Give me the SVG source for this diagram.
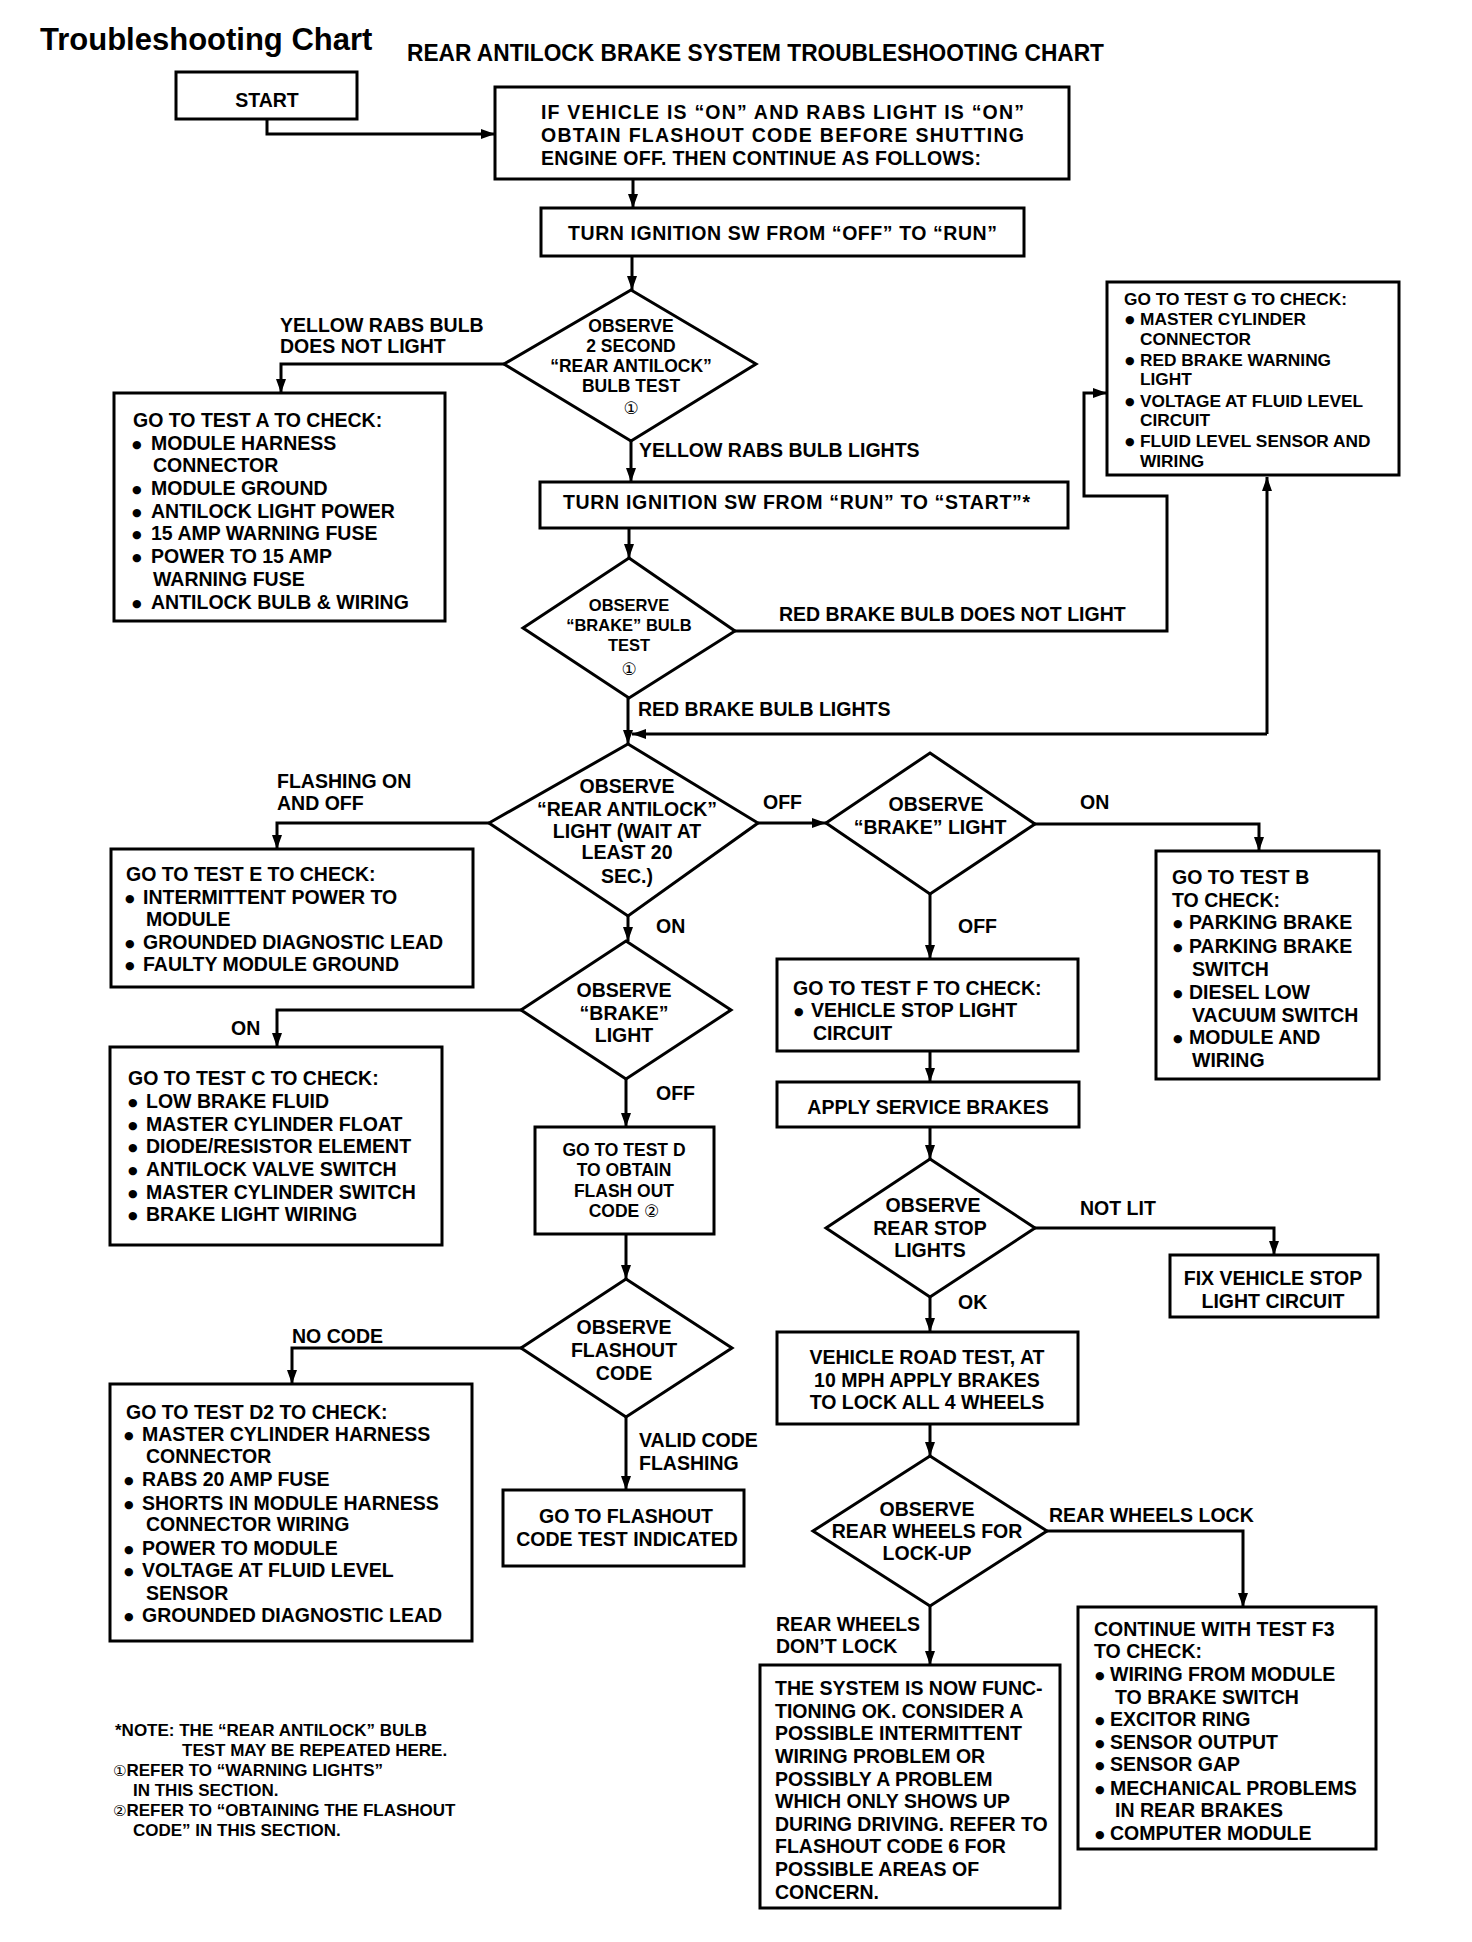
<svg xmlns="http://www.w3.org/2000/svg" width="1472" height="1942" viewBox="0 0 1472 1942">
<style>
text{font-family:"Liberation Sans",Arial,"DejaVu Sans",sans-serif;font-weight:bold;font-size:19.5px;fill:#000}
.c{text-anchor:middle}
.s{font-size:17.5px}
.g{font-size:17.3px}
.n{font-size:17px}
.sm{font-size:16.5px}
.bl{font-family:"DejaVu Sans",sans-serif;font-size:11px;font-weight:normal}
.cd{font-family:"DejaVu Sans",sans-serif;font-size:17px;font-weight:normal}
.box{fill:#fff;stroke:#000;stroke-width:3}
.dia{fill:#fff;stroke:#000;stroke-width:3;stroke-linejoin:miter}
.ln{fill:none;stroke:#000;stroke-width:3}
.ar{fill:none;stroke:#000;stroke-width:3;marker-end:url(#ah)}
</style>
<defs>
<marker id="ah" viewBox="0 0 14 10" refX="14" refY="5" markerWidth="14" markerHeight="10" markerUnits="userSpaceOnUse" orient="auto"><path d="M0,0 L14,5 L0,10 z" fill="#000"/></marker>
</defs>
<rect x="0" y="0" width="1472" height="1942" fill="#fff"/>

<text x="40" y="50" style="font-size:31px">Troubleshooting Chart</text>
<text x="407" y="61" style="font-size:23px" textLength="697" lengthAdjust="spacingAndGlyphs">REAR ANTILOCK BRAKE SYSTEM TROUBLESHOOTING CHART</text>

<g id="connectors">
<path class="ar" d="M267,119 V134 H495"/>
<path class="ar" d="M633,179 V208"/>
<path class="ar" d="M632,256 V290"/>
<path class="ar" d="M504,364 H281 V393"/>
<path class="ar" d="M631,441 V482"/>
<path class="ar" d="M629,528 V558"/>
<path class="ar" d="M735,631 H1167 V496 H1084 V393 H1107"/>
<path class="ar" d="M628,698 V744"/>
<path class="ar" d="M1267,734 V477"/>
<path class="ar" d="M1267,734 H632"/>
<path class="ar" d="M489,823 H277 V849"/>
<path class="ar" d="M758,823 H826"/>
<path class="ar" d="M1035,824 H1259 V851"/>
<path class="ar" d="M628,916 V941"/>
<path class="ar" d="M930,894 V959"/>
<path class="ar" d="M521,1010 H277 V1047"/>
<path class="ar" d="M626,1079 V1127"/>
<path class="ar" d="M930,1051 V1082"/>
<path class="ar" d="M930,1127 V1159"/>
<path class="ar" d="M1035,1228 H1274 V1255"/>
<path class="ar" d="M626,1234 V1279"/>
<path class="ar" d="M930,1297 V1332"/>
<path class="ar" d="M521,1348 H292 V1384"/>
<path class="ar" d="M626,1417 V1490"/>
<path class="ar" d="M930,1424 V1456"/>
<path class="ar" d="M1047,1531 H1243 V1607"/>
<path class="ar" d="M930,1606 V1665"/>
</g>

<g id="labels">
<text x="280" y="332">YELLOW RABS BULB</text>
<text x="280" y="353">DOES NOT LIGHT</text>
<text x="639" y="457">YELLOW RABS BULB LIGHTS</text>
<text x="779" y="621">RED BRAKE BULB DOES NOT LIGHT</text>
<text x="638" y="716">RED BRAKE BULB LIGHTS</text>
<text x="277" y="788">FLASHING ON</text>
<text x="277" y="810">AND OFF</text>
<text x="763" y="809">OFF</text>
<text x="1080" y="809">ON</text>
<text x="656" y="933">ON</text>
<text x="958" y="933">OFF</text>
<text x="231" y="1035">ON</text>
<text x="656" y="1100">OFF</text>
<text x="1080" y="1215">NOT LIT</text>
<text x="958" y="1309">OK</text>
<text x="292" y="1343">NO CODE</text>
<text x="639" y="1447">VALID CODE</text>
<text x="639" y="1470">FLASHING</text>
<text x="1049" y="1522">REAR WHEELS LOCK</text>
<text x="776" y="1631">REAR WHEELS</text>
<text x="776" y="1653">DON’T LOCK</text>
</g>

<g id="start">
<rect class="box" x="176" y="72" width="181" height="47"/>
<text class="c" x="267" y="107">START</text>
</g>

<g id="box1">
<rect class="box" x="495" y="87" width="574" height="92"/>
<text x="541" y="119" textLength="483" lengthAdjust="spacing">IF VEHICLE IS “ON” AND RABS LIGHT IS “ON”</text>
<text x="541" y="142" textLength="483" lengthAdjust="spacing">OBTAIN FLASHOUT CODE BEFORE SHUTTING</text>
<text x="541" y="165" textLength="440" lengthAdjust="spacing">ENGINE OFF. THEN CONTINUE AS FOLLOWS:</text>
</g>

<g id="box2">
<rect class="box" x="541" y="208" width="483" height="48"/>
<text x="568" y="240" textLength="429" lengthAdjust="spacing">TURN IGNITION SW FROM “OFF” TO “RUN”</text>
</g>

<g id="dia1">
<polygon class="dia" points="631,290 756,364 631,441 504,364"/>
<text class="c s" x="631" y="332">OBSERVE</text>
<text class="c s" x="631" y="352">2 SECOND</text>
<text class="c s" x="631" y="372">“REAR ANTILOCK”</text>
<text class="c s" x="631" y="392">BULB TEST</text>
<text class="c cd" x="631" y="414">①</text>
</g>

<g id="testA">
<rect class="box" x="114" y="393" width="331" height="228"/>
<text x="133" y="427">GO TO TEST A TO CHECK:</text>
<text x="132" y="448" class="bl">●</text><text x="151" y="450">MODULE HARNESS</text>
<text x="153" y="472">CONNECTOR</text>
<text x="132" y="493" class="bl">●</text><text x="151" y="495">MODULE GROUND</text>
<text x="132" y="516" class="bl">●</text><text x="151" y="518">ANTILOCK LIGHT POWER</text>
<text x="132" y="538" class="bl">●</text><text x="151" y="540">15 AMP WARNING FUSE</text>
<text x="132" y="561" class="bl">●</text><text x="151" y="563">POWER TO 15 AMP</text>
<text x="153" y="586">WARNING FUSE</text>
<text x="132" y="607" class="bl">●</text><text x="151" y="609">ANTILOCK BULB &amp; WIRING</text>
</g>

<g id="testG">
<rect class="box" x="1107" y="282" width="292" height="193"/>
<text class="g" x="1124" y="305">GO TO TEST G TO CHECK:</text>
<text class="bl" x="1125" y="323">●</text><text class="g" x="1140" y="325">MASTER CYLINDER</text>
<text class="g" x="1140" y="345">CONNECTOR</text>
<text class="bl" x="1125" y="364">●</text><text class="g" x="1140" y="366">RED BRAKE WARNING</text>
<text class="g" x="1140" y="385">LIGHT</text>
<text class="bl" x="1125" y="405">●</text><text class="g" x="1140" y="407">VOLTAGE AT FLUID LEVEL</text>
<text class="g" x="1140" y="426">CIRCUIT</text>
<text class="bl" x="1125" y="445">●</text><text class="g" x="1140" y="447">FLUID LEVEL SENSOR AND</text>
<text class="g" x="1140" y="467">WIRING</text>
</g>

<g id="box3">
<rect class="box" x="540" y="482" width="528" height="46"/>
<text x="563" y="509" textLength="467" lengthAdjust="spacing">TURN IGNITION SW FROM “RUN” TO “START”*</text>
</g>

<g id="dia2">
<polygon class="dia" points="629,558 735,631 629,698 523,628"/>
<text class="c sm" x="629" y="611">OBSERVE</text>
<text class="c sm" x="629" y="631">“BRAKE” BULB</text>
<text class="c sm" x="629" y="651">TEST</text>
<text class="c cd" x="629" y="675">①</text>
</g>

<g id="dia3">
<polygon class="dia" points="628,744 758,823 628,916 489,823"/>
<text class="c" x="627" y="793">OBSERVE</text>
<text class="c" x="627" y="816">“REAR ANTILOCK”</text>
<text class="c" x="627" y="838">LIGHT (WAIT AT</text>
<text class="c" x="627" y="859">LEAST 20</text>
<text class="c" x="627" y="883">SEC.)</text>
</g>

<g id="dia4">
<polygon class="dia" points="930,753 1035,824 930,894 826,823"/>
<text class="c" x="936" y="811">OBSERVE</text>
<text class="c" x="930" y="834">“BRAKE” LIGHT</text>
</g>

<g id="testE">
<rect class="box" x="111" y="849" width="362" height="138"/>
<text x="126" y="881">GO TO TEST E TO CHECK:</text>
<text class="bl" x="125" y="902">●</text><text x="143" y="904">INTERMITTENT POWER TO</text>
<text x="146" y="926">MODULE</text>
<text class="bl" x="125" y="947">●</text><text x="143" y="949">GROUNDED DIAGNOSTIC LEAD</text>
<text class="bl" x="125" y="969">●</text><text x="143" y="971">FAULTY MODULE GROUND</text>
</g>

<g id="testB">
<rect class="box" x="1156" y="851" width="223" height="228"/>
<text x="1172" y="884">GO TO TEST B</text>
<text x="1172" y="907">TO CHECK:</text>
<text class="bl" x="1173" y="927">●</text><text x="1189" y="929">PARKING BRAKE</text>
<text class="bl" x="1173" y="951">●</text><text x="1189" y="953">PARKING BRAKE</text>
<text x="1192" y="976">SWITCH</text>
<text class="bl" x="1173" y="997">●</text><text x="1189" y="999">DIESEL LOW</text>
<text x="1192" y="1022">VACUUM SWITCH</text>
<text class="bl" x="1173" y="1042">●</text><text x="1189" y="1044">MODULE AND</text>
<text x="1192" y="1067">WIRING</text>
</g>

<g id="testF">
<rect class="box" x="777" y="959" width="301" height="92"/>
<text x="793" y="995">GO TO TEST F TO CHECK:</text>
<text class="bl" x="794" y="1015">●</text><text x="811" y="1017">VEHICLE STOP LIGHT</text>
<text x="813" y="1040">CIRCUIT</text>
</g>

<g id="dia5">
<polygon class="dia" points="626,941 731,1010 626,1079 521,1010"/>
<text class="c" x="624" y="997">OBSERVE</text>
<text class="c" x="624" y="1020">“BRAKE”</text>
<text class="c" x="624" y="1042">LIGHT</text>
</g>

<g id="testC">
<rect class="box" x="110" y="1047" width="332" height="198"/>
<text x="128" y="1085">GO TO TEST C TO CHECK:</text>
<text class="bl" x="128" y="1106">●</text><text x="146" y="1108">LOW BRAKE FLUID</text>
<text class="bl" x="128" y="1129">●</text><text x="146" y="1131">MASTER CYLINDER FLOAT</text>
<text class="bl" x="128" y="1151">●</text><text x="146" y="1153">DIODE/RESISTOR ELEMENT</text>
<text class="bl" x="128" y="1174">●</text><text x="146" y="1176">ANTILOCK VALVE SWITCH</text>
<text class="bl" x="128" y="1197">●</text><text x="146" y="1199">MASTER CYLINDER SWITCH</text>
<text class="bl" x="128" y="1219">●</text><text x="146" y="1221">BRAKE LIGHT WIRING</text>
</g>

<g id="applyBrakes">
<rect class="box" x="777" y="1082" width="302" height="45"/>
<text class="c" x="928" y="1114">APPLY SERVICE BRAKES</text>
</g>

<g id="testD">
<rect class="box" x="535" y="1127" width="179" height="107"/>
<text class="c s" x="624" y="1156">GO TO TEST D</text>
<text class="c s" x="624" y="1176">TO OBTAIN</text>
<text class="c s" x="624" y="1197">FLASH OUT</text>
<text class="c s" x="624" y="1217">CODE <tspan class="cd">②</tspan></text>
</g>

<g id="dia7">
<polygon class="dia" points="930,1159 1035,1228 930,1297 826,1228"/>
<text class="c" x="933" y="1212">OBSERVE</text>
<text class="c" x="930" y="1235">REAR STOP</text>
<text class="c" x="930" y="1257">LIGHTS</text>
</g>

<g id="fixStop">
<rect class="box" x="1170" y="1255" width="208" height="62"/>
<text class="c" x="1273" y="1285">FIX VEHICLE STOP</text>
<text class="c" x="1273" y="1308">LIGHT CIRCUIT</text>
</g>

<g id="roadTest">
<rect class="box" x="777" y="1332" width="301" height="92"/>
<text class="c" x="927" y="1364">VEHICLE ROAD TEST, AT</text>
<text class="c" x="927" y="1387">10 MPH APPLY BRAKES</text>
<text class="c" x="927" y="1409">TO LOCK ALL 4 WHEELS</text>
</g>

<g id="dia6">
<polygon class="dia" points="626,1279 732,1348 626,1417 521,1348"/>
<text class="c" x="624" y="1334">OBSERVE</text>
<text class="c" x="624" y="1357">FLASHOUT</text>
<text class="c" x="624" y="1380">CODE</text>
</g>

<g id="testD2">
<rect class="box" x="110" y="1384" width="362" height="257"/>
<text x="126" y="1419">GO TO TEST D2 TO CHECK:</text>
<text class="bl" x="124" y="1439">●</text><text x="142" y="1441">MASTER CYLINDER HARNESS</text>
<text x="146" y="1463">CONNECTOR</text>
<text class="bl" x="124" y="1484">●</text><text x="142" y="1486">RABS 20 AMP FUSE</text>
<text class="bl" x="124" y="1508">●</text><text x="142" y="1510">SHORTS IN MODULE HARNESS</text>
<text x="146" y="1531">CONNECTOR WIRING</text>
<text class="bl" x="124" y="1553">●</text><text x="142" y="1555">POWER TO MODULE</text>
<text class="bl" x="124" y="1575">●</text><text x="142" y="1577">VOLTAGE AT FLUID LEVEL</text>
<text x="146" y="1600">SENSOR</text>
<text class="bl" x="124" y="1620">●</text><text x="142" y="1622">GROUNDED DIAGNOSTIC LEAD</text>
</g>

<g id="flashoutTest">
<rect class="box" x="503" y="1490" width="241" height="76"/>
<text class="c" x="626" y="1523">GO TO FLASHOUT</text>
<text class="c" x="627" y="1546">CODE TEST INDICATED</text>
</g>

<g id="dia8">
<polygon class="dia" points="930,1456 1047,1531 930,1606 813,1531"/>
<text class="c" x="927" y="1516">OBSERVE</text>
<text class="c" x="927" y="1538">REAR WHEELS FOR</text>
<text class="c" x="927" y="1560">LOCK-UP</text>
</g>

<g id="systemOk">
<rect class="box" x="760" y="1665" width="300" height="243"/>
<text x="775" y="1695">THE SYSTEM IS NOW FUNC-</text>
<text x="775" y="1718">TIONING OK. CONSIDER A</text>
<text x="775" y="1740">POSSIBLE INTERMITTENT</text>
<text x="775" y="1763">WIRING PROBLEM OR</text>
<text x="775" y="1786">POSSIBLY A PROBLEM</text>
<text x="775" y="1808">WHICH ONLY SHOWS UP</text>
<text x="775" y="1831">DURING DRIVING. REFER TO</text>
<text x="775" y="1853">FLASHOUT CODE 6 FOR</text>
<text x="775" y="1876">POSSIBLE AREAS OF</text>
<text x="775" y="1899">CONCERN.</text>
</g>

<g id="testF3">
<rect class="box" x="1078" y="1607" width="298" height="242"/>
<text x="1094" y="1636">CONTINUE WITH TEST F3</text>
<text x="1094" y="1658">TO CHECK:</text>
<text class="bl" x="1095" y="1679">●</text><text x="1110" y="1681">WIRING FROM MODULE</text>
<text x="1115" y="1704">TO BRAKE SWITCH</text>
<text class="bl" x="1095" y="1724">●</text><text x="1110" y="1726">EXCITOR RING</text>
<text class="bl" x="1095" y="1747">●</text><text x="1110" y="1749">SENSOR OUTPUT</text>
<text class="bl" x="1095" y="1769">●</text><text x="1110" y="1771">SENSOR GAP</text>
<text class="bl" x="1095" y="1793">●</text><text x="1110" y="1795">MECHANICAL PROBLEMS</text>
<text x="1115" y="1817">IN REAR BRAKES</text>
<text class="bl" x="1095" y="1838">●</text><text x="1110" y="1840">COMPUTER MODULE</text>
</g>

<g id="notes">
<text class="n" x="115" y="1736">*NOTE: THE “REAR ANTILOCK” BULB</text>
<text class="n" x="182" y="1756">TEST MAY BE REPEATED HERE.</text>
<text class="n" x="113" y="1776"><tspan class="cd" style="font-size:15px">①</tspan>REFER TO “WARNING LIGHTS”</text>
<text class="n" x="133" y="1796">IN THIS SECTION.</text>
<text class="n" x="113" y="1816"><tspan class="cd" style="font-size:15px">②</tspan>REFER TO “OBTAINING THE FLASHOUT</text>
<text class="n" x="133" y="1836">CODE” IN THIS SECTION.</text>
</g>
</svg>
